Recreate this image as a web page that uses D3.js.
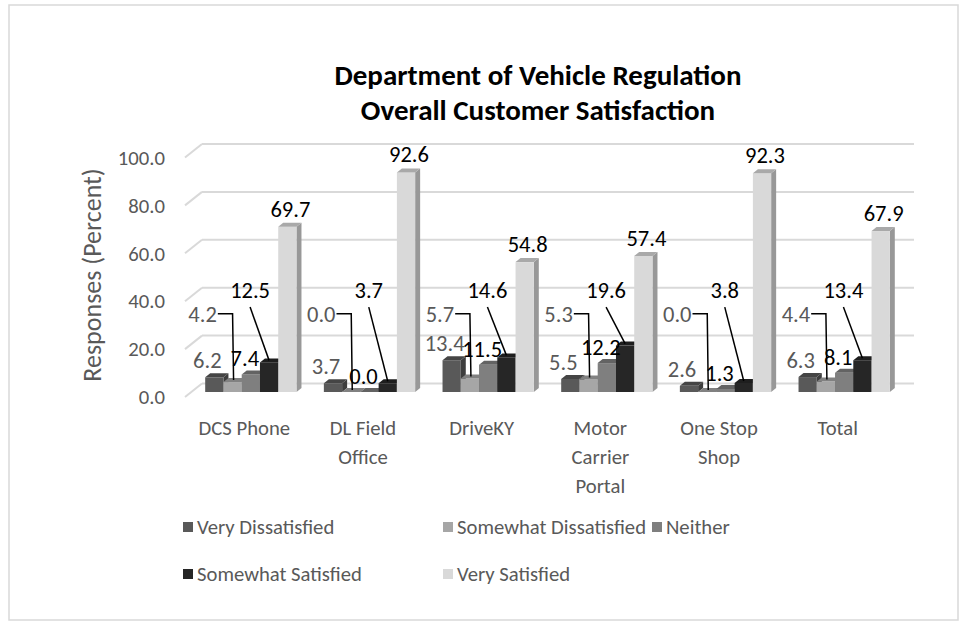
<!DOCTYPE html>
<html>
<head>
<meta charset="utf-8">
<script src="https://cdn.jsdelivr.net/npm/d3@7"></script>
<style>
  body { margin: 0; background: #fff; }
  text { font-family: Carlito, Calibri, Lato, sans-serif; }
</style>
</head>
<body>
<svg id="chart" width="962" height="622"></svg>
<script>
const categories = ["DCS Phone", "DL Field Office", "DriveKY", "Motor Carrier Portal", "One Stop Shop", "Total"];
const series = ["Very Dissatisfied", "Somewhat Dissatisfied", "Neither", "Somewhat Satisfied", "Very Satisfied"];
const veryDissatisfied     = [6.2, 3.7, 13.4, 5.5, 2.6, 6.3];
const somewhatDissatisfied = [4.2, 0.0, 5.7, 5.3, 0.0, 4.4];
const neither              = [7.4, 0.0, 11.5, 12.2, 1.3, 8.1];
const somewhatSatisfied    = [12.5, 3.7, 14.6, 19.6, 3.8, 13.4];
const verySatisfied        = [69.7, 92.6, 54.8, 57.4, 92.3, 67.9];
const yTicks = [0, 20, 40, 60, 80, 100];

const values = [veryDissatisfied, somewhatDissatisfied, neither, somewhatSatisfied, verySatisfied];
const colors = ["#595959", "#a6a6a6", "#7f7f7f", "#262626", "#d9d9d9"];
const labelColors = ["#595959", "#595959", "#000", "#000", "#000"];

const textSize = "20.7px", labelSize = "22.5px";

const svg = d3.select("#chart");

// chart border
svg.append("rect")
   .attr("x", 9).attr("y", 5)
   .attr("width", 949).attr("height", 615)
   .style("fill", "none")
   .style("stroke", "#d9d9d9")
   .style("stroke-width", 1.5);

// 3d geometry: front plane of the left wall, and how far back the walls sit
const frontLeft = 185, frontRight = 897;
const depthDx = 17, depthDy = -13.5;
let y = d3.scaleLinear().domain([0, 100]).range([397, 157.5]);

// bars stand part way into the floor
const barShiftX = 6.5, barBase = 392;
let yBar = d3.scaleLinear().domain([0, 100]).range([barBase, barBase - 237]);
const faceDx = 5, faceDy = -4;

let x0 = d3.scaleBand().domain(categories).range([frontLeft + barShiftX, frontRight + barShiftX]);
const clusterW = x0.bandwidth() * 5 / 6.5;
let x1 = d3.scaleBand().domain(series).range([0, clusterW]);
const clusterOff = (x0.bandwidth() - clusterW) / 2;

// gridlines on back and side walls
let grid = svg.append("g").attr("class", "grid")
              .style("stroke", "#d9d9d9").style("stroke-width", 2).style("fill", "none");
yTicks.forEach((t) => {
  grid.append("line")
      .attr("x1", frontLeft + depthDx).attr("y1", y(t) + depthDy)
      .attr("x2", frontRight + depthDx).attr("y2", y(t) + depthDy);
  grid.append("line")
      .attr("x1", frontLeft).attr("y1", y(t))
      .attr("x2", frontLeft + depthDx).attr("y2", y(t) + depthDy);
});

// y-axis tick labels
svg.append("g").selectAll("text")
   .data(yTicks)
   .enter().append("text")
   .attr("x", 165)
   .attr("y", (d) => y(d))
   .attr("dy", "0.35em")
   .attr("text-anchor", "end")
   .style("font-size", textSize)
   .style("fill", "#595959")
   .text((d) => d3.format(".1f")(d));

// y-axis title
svg.append("text")
   .attr("transform", "translate(92,275) rotate(-90)")
   .attr("text-anchor", "middle")
   .attr("dy", "0.35em")
   .style("font-size", "26px")
   .style("fill", "#595959")
   .text("Responses (Percent)");

// bars
let bars = [];
categories.forEach((c, ci) => {
  series.forEach((s, si) => {
    let v = values[si][ci];
    let bx = x0(c) + clusterOff + x1(s);
    bars.push({c: c, s: s, si: si, v: v, x: bx, w: x1.bandwidth(), top: yBar(v), cx: bx + x1.bandwidth() / 2});
  });
});

let barG = svg.append("g").attr("class", "bars");
bars.forEach((b) => {
  let base = colors[b.si];
  let g = barG.append("g");
  // side face
  g.append("polygon")
   .attr("points", [[b.x + b.w, barBase], [b.x + b.w + faceDx, barBase + faceDy],
                    [b.x + b.w + faceDx, b.top + faceDy], [b.x + b.w, b.top]].join(" "))
   .style("fill", d3.color(base).darker(1));
  // front face
  g.append("rect")
   .attr("x", b.x).attr("y", b.top)
   .attr("width", b.w).attr("height", barBase - b.top)
   .style("fill", base);
  // top face
  g.append("polygon")
   .attr("points", [[b.x, b.top], [b.x + faceDx, b.top + faceDy],
                    [b.x + b.w + faceDx, b.top + faceDy], [b.x + b.w, b.top]].join(" "))
   .style("fill", d3.color(base).darker(0.7));
});

// data labels; two series were lifted up with leader lines
const labelNudge = [{dx: -7, dy: -17}, null, {dx: -6, dy: -16}, null, {dx: 3, dy: -18}];
const calloutLevel = [null, 33, null, 43, null];
const calloutDx = [0, -30, 0, -19, 0];

let labelG = svg.append("g").attr("class", "labels");
bars.forEach((b) => {
  let lx, ly;
  if (labelNudge[b.si]) {
    lx = b.cx + labelNudge[b.si].dx;
    ly = b.top + labelNudge[b.si].dy;
  } else {
    lx = b.cx + calloutDx[b.si];
    ly = yBar(calloutLevel[b.si]);
  }
  let t = labelG.append("text")
                .attr("x", lx).attr("y", ly)
                .attr("dy", "0.35em")
                .attr("text-anchor", "middle")
                .style("font-size", labelSize)
                .style("fill", labelColors[b.si])
                .text(d3.format(".1f")(b.v));
  if (b.si === 1) {
    let right = lx + t.node().getComputedTextLength() / 2 + 1;
    labelG.append("polyline")
          .attr("points", [[right, ly], [b.cx, ly], [b.cx + 1, b.top - 2]].join(" "))
          .style("fill", "none").style("stroke", "#000").style("stroke-width", 1.5);
  } else if (b.si === 3) {
    labelG.append("line")
          .attr("x1", lx).attr("y1", ly + 17)
          .attr("x2", b.cx).attr("y2", b.top - 2)
          .style("stroke", "#000").style("stroke-width", 1.5);
  }
});

// category labels, wrapped like the original
function wrap(text, width) {
  text.each(function() {
    let el = d3.select(this);
    let words = el.text().split(/\s+/);
    let line = [];
    let cx = el.attr("x");
    let tspan = el.text(null).append("tspan").attr("x", cx).attr("dy", 0);
    words.forEach((w) => {
      line.push(w);
      tspan.text(line.join(" "));
      if (tspan.node().getComputedTextLength() > width && line.length > 1) {
        line.pop();
        tspan.text(line.join(" "));
        line = [w];
        tspan = el.append("tspan").attr("x", cx).attr("dy", 29).text(w);
      }
    });
  });
}

svg.append("g").selectAll("text")
   .data(categories)
   .enter().append("text")
   .attr("x", (d) => x0(d) - barShiftX + x0.bandwidth() / 2)
   .attr("y", 435)
   .attr("text-anchor", "middle")
   .style("font-size", textSize)
   .style("fill", "#595959")
   .text((d) => d)
   .call(wrap, 100);

// legend
const legendPos = [[183, 527], [443, 527], [652, 527], [183, 574], [443, 574]];
let legend = svg.append("g").attr("class", "legend");
series.forEach((s, i) => {
  legend.append("rect")
        .attr("x", legendPos[i][0]).attr("y", legendPos[i][1] - 5)
        .attr("width", 10).attr("height", 10)
        .style("fill", colors[i]);
  legend.append("text")
        .attr("x", legendPos[i][0] + 14).attr("y", legendPos[i][1])
        .attr("dy", "0.35em")
        .style("font-size", textSize)
        .style("fill", "#595959")
        .text(s);
});

// title
let title = svg.append("text")
               .attr("x", 538).attr("y", 75)
               .attr("text-anchor", "middle")
               .style("font-size", "29px")
               .style("font-weight", "bold")
               .style("fill", "#000");
title.append("tspan").attr("x", 538).attr("dy", "0.35em").text("Department of Vehicle Regulation");
title.append("tspan").attr("x", 538).attr("dy", 35).text("Overall Customer Satisfaction");
</script>
</body>
</html>
